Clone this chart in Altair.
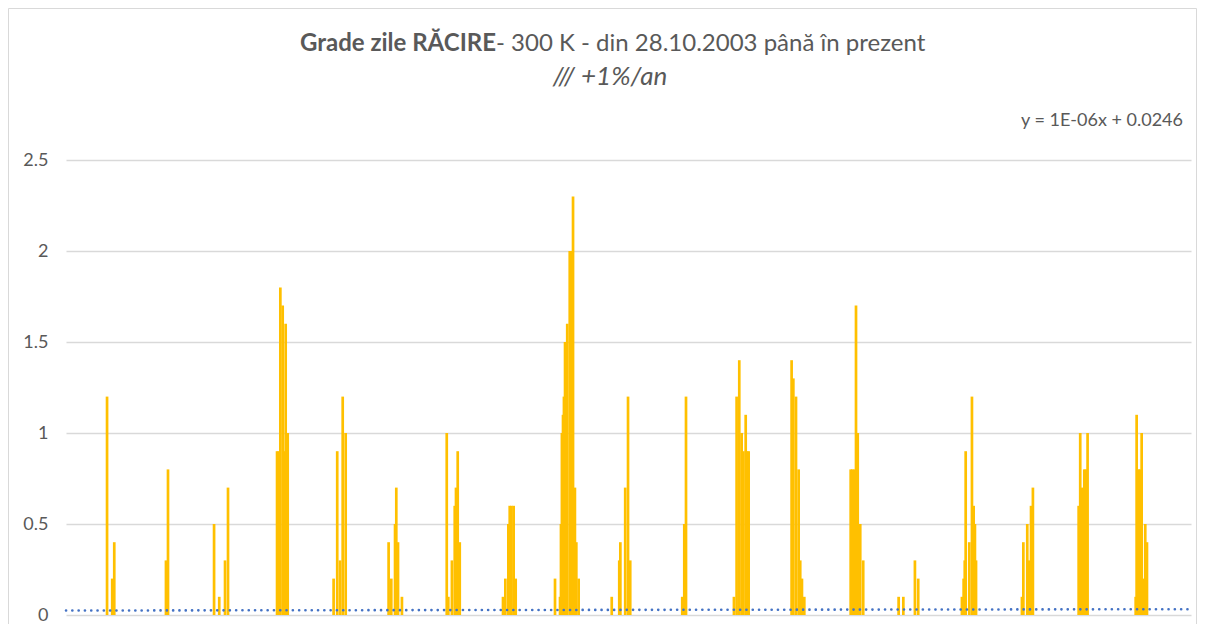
import altair as alt
import pandas as pd

# Day index since 28.10.2003 and cooling degree-day values (spikes)
spike_day = [
    262, 295, 308,
    638, 651,
    945, 978, 1015, 1034,
    1347, 1358, 1368, 1383, 1391, 1402, 1415,
    1708, 1731, 1749, 1766, 1785,
    2059, 2076, 2100, 2108, 2119, 2144,
    2430, 2440, 2463, 2481, 2489, 2500, 2513,
    2789, 2804, 2823, 2832, 2843, 2857, 2870,
    3121, 3153, 3159, 3165, 3172, 3178, 3185, 3199, 3215, 3223, 3236, 3248, 3257, 3272,
    3483, 3531, 3538, 3569, 3587, 3601,
    3933, 3946, 3957,
    4263, 4280, 4297, 4312, 4323, 4338, 4347, 4357,
    4631, 4642, 4659, 4676, 4686, 4697, 4712,
    5008, 5018, 5029, 5042, 5053, 5069, 5088,
    5314, 5344, 5418, 5439,
    5718, 5729, 5736, 5742, 5765, 5782, 5793, 5801, 5808,
    6101, 6110, 6135, 6148, 6159, 6171,
    6463, 6473, 6484, 6499, 6508, 6520,
    6827, 6833, 6846, 6853, 6865, 6880, 6888, 6899,
]
spike_value = [
    1.2, 0.2, 0.4,
    0.3, 0.8,
    0.5, 0.1, 0.3, 0.7,
    0.9, 0.9, 1.8, 1.7, 0.9, 1.6, 1.0,
    0.2, 0.9, 0.3, 1.2, 1.0,
    0.4, 0.2, 0.5, 0.7, 0.4, 0.1,
    1.0, 0.1, 0.3, 0.6, 0.7, 0.9, 0.4,
    0.1, 0.2, 0.5, 0.6, 0.6, 0.6, 0.2,
    0.2, 0.1, 0.5, 1.0, 1.1, 1.2, 1.5, 1.6, 2.0, 2.0, 2.3, 0.7, 0.4, 0.2,
    0.1, 0.3, 0.4, 0.7, 1.2, 0.3,
    0.1, 0.5, 1.2,
    0.1, 1.2, 1.4, 1.0, 0.9, 1.1, 0.9, 0.9,
    1.4, 1.3, 1.2, 0.8, 0.3, 0.2, 0.1,
    0.8, 0.8, 0.8, 1.7, 1.0, 0.5, 0.3,
    0.1, 0.1, 0.3, 0.2,
    0.1, 0.2, 0.3, 0.9, 0.4, 1.2, 0.6, 0.5, 0.3,
    0.1, 0.4, 0.5, 0.3, 0.6, 0.7,
    0.6, 1.0, 0.7, 0.8, 0.8, 1.0,
    0.1, 1.1, 0.8, 0.8, 1.0, 0.2, 0.5, 0.4,
]

# Linear trendline y = 1E-06x + 0.0246 (end points)
trend_day = [0, 7180]
trend_value = [0.0246, 0.0318]

y_ticks = [0, 0.5, 1, 1.5, 2, 2.5]
x_max = 7180

title_bold = "Grade zile RĂCIRE"
title_rest = "- 300 K - din 28.10.2003 până în prezent"
subtitle = "/// +1%/an"
equation = "y = 1E-06x + 0.0246"

W, H = 1125, 455
FONT = "Lato"
GREY = "#595959"

spikes_df = pd.DataFrame({"day": spike_day, "value": spike_value})
trend_df = pd.DataFrame({"day": trend_day, "value": trend_value})

x_enc = alt.X("day:Q", scale=alt.Scale(domain=[0, x_max], nice=False, zero=False), axis=None)
y_scale = alt.Scale(domain=[0, 2.5], nice=False)

spikes = alt.Chart(spikes_df).mark_rule(color="#FFC000", strokeWidth=2.7).encode(
    x=x_enc,
    y=alt.Y(
        "value:Q",
        scale=y_scale,
        axis=alt.Axis(
            values=y_ticks,
            format="~g",
            title=None,
            domain=False,
            ticks=False,
            grid=True,
            gridColor="#D9D9D9",
            gridWidth=1.5,
            labelFont=FONT,
            labelFontSize=18,
            labelColor=GREY,
            labelPadding=18,
        ),
    ),
    y2=alt.datum(0),
)

trend = alt.Chart(trend_df).mark_line(
    color="#4472C4", strokeWidth=2.6, strokeDash=[0.1, 6.2], strokeCap="round"
).encode(x=x_enc, y=alt.Y("value:Q", scale=y_scale))

border = alt.Chart().mark_rect(fillOpacity=0, stroke="#D9D9D9", strokeWidth=1).encode(
    x=alt.value(-57.5), x2=alt.value(1130.5), y=alt.value(-151.5), y2=alt.value(520)
)

t_bold = alt.Chart().mark_text(
    font=FONT, fontSize=24, fontWeight="bold", color=GREY, align="right", baseline="alphabetic"
).encode(x=alt.value(430), y=alt.value(-109), text=alt.datum(title_bold))

t_rest = alt.Chart().mark_text(
    font=FONT, fontSize=24, color=GREY, align="left", baseline="alphabetic"
).encode(x=alt.value(430), y=alt.value(-109), text=alt.datum(title_rest))

t_sub = alt.Chart().mark_text(
    font=FONT, fontSize=26, fontStyle="italic", color=GREY, align="center", baseline="alphabetic"
).encode(x=alt.value(544), y=alt.value(-75), text=alt.datum(subtitle))

t_eq = alt.Chart().mark_text(
    font=FONT, fontSize=18, color=GREY, align="right", baseline="alphabetic"
).encode(x=alt.value(1117), y=alt.value(-34), text=alt.datum(equation))

chart = alt.layer(border, spikes, trend, t_bold, t_rest, t_sub, t_eq).properties(
    width=W,
    height=H,
    autosize=alt.AutoSizeParams(type="none"),
    padding={"left": 58, "top": 152, "right": 6, "bottom": 9},
    background="white",
).configure_view(stroke=None)

chart.save("out.html", embed_options={"renderer": "svg", "actions": False})
